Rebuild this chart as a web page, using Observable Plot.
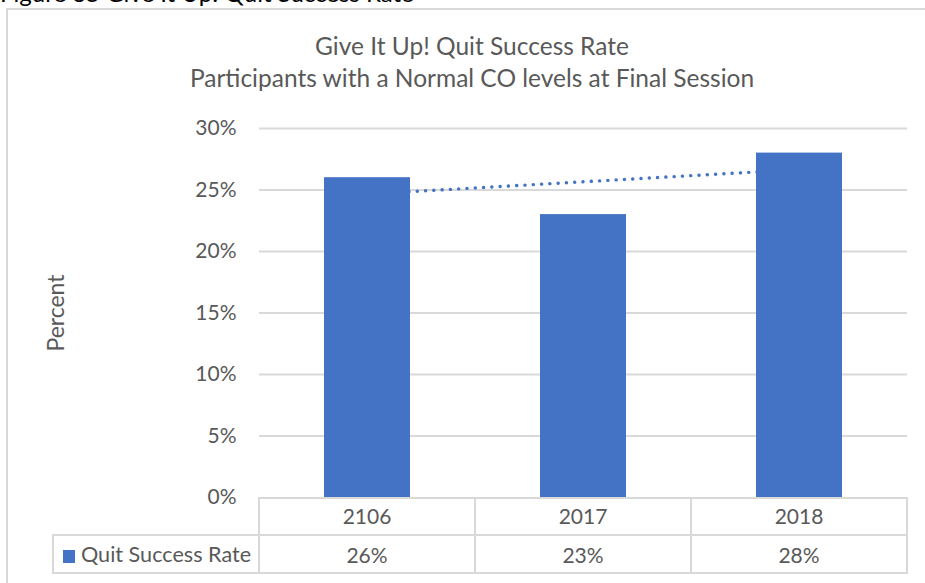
<!DOCTYPE html>
<html>
<head>
<meta charset="utf-8">
<script src="https://cdn.jsdelivr.net/npm/d3@7"></script>
<script src="https://cdn.jsdelivr.net/npm/@observablehq/plot@0.6"></script>
<style>
  html, body { margin: 0; padding: 0; background: #fff; }
  #wrap { position: relative; width: 925px; height: 583px; overflow: hidden; background: #fff; font-family: Lato, "Open Sans", sans-serif; }
  #caption { position: absolute; left: 0; top: -19px; font-size: 24px; line-height: 24px; color: #000; white-space: nowrap; }
  #frame { position: absolute; left: 6px; top: 8px; width: 1000px; height: 1000px; border: 2px solid #d9d9d9; box-sizing: border-box; }
  #title { position: absolute; left: 7px; top: 30px; width: 930px; text-align: center; color: #595959; font-size: 24.5px; line-height: 32px; }
  #chart { position: absolute; left: 0; top: 100px; }
  #tbl { position: absolute; left: 52px; top: 497px; border-collapse: collapse; color: #595959; font-size: 21px; }
  #tbl td { border: 2px solid #d9d9d9; text-align: center; padding: 0; }
  #tbl tr.yr td { padding-bottom: 3px; }
  #tbl td.blank { border-left: none; border-top: none; }
  #tbl td.leg { text-align: left; padding-left: 9px; white-space: nowrap; font-size: 21.6px; }
  .sw { display: inline-block; width: 12px; height: 13px; background: #4472C4; margin-right: 6px; vertical-align: -1px; }
</style>
</head>
<body>
<div id="wrap">
  <div id="caption"></div>
  <div id="frame"></div>
  <div id="title"></div>
  <div id="chart"></div>
  <table id="tbl"></table>
</div>
<script>
const captionText = "Figure 35 Give It Up! Quit Success Rate";
const titleLines = ["Give It Up! Quit Success Rate", "Participants with a Normal CO levels at Final Session"];
const years = ["2106", "2017", "2018"];
const quitRate = [26, 23, 28];            // percent
const trend = [24.67, 25.67, 26.67];      // linear trendline, percent
const yTicks = [0, 5, 10, 15, 20, 25, 30];
const seriesName = "Quit Success Rate";
const yLabel = "Percent";

document.getElementById("caption").textContent = captionText;
document.getElementById("title").innerHTML = titleLines.map(t => `<div>${t}</div>`).join("");

const data = years.map((y, i) => ({year: y, value: quitRate[i], trend: trend[i]}));
const grid = yTicks.filter(t => t > 0);

const chart = Plot.plot({
  width: 925,
  height: 416,
  marginTop: 28,
  marginBottom: 19,
  marginLeft: 259,
  marginRight: 18,
  style: {fontFamily: "Lato, 'Open Sans', sans-serif", fontSize: "21px", color: "#595959", background: "transparent", overflow: "visible"},
  x: {domain: years, paddingInner: 0.6, paddingOuter: 0.3, axis: null},
  y: {domain: [0, 30]},
  marks: [
    Plot.ruleY(grid, {stroke: "#d9d9d9", strokeWidth: 2, strokeOpacity: 1}),
    Plot.axisY({ticks: yTicks, tickSize: 0, tickPadding: 23, tickFormat: d => d + "%", fontSize: 21}),
    Plot.axisY({ticks: [], tickSize: 0, fontSize: 23,
                label: yLabel, labelAnchor: "center", labelArrow: "none", labelOffset: 212}),
    Plot.line(data, {x: "year", y: "trend", stroke: "#4472C4", strokeWidth: 3.4, strokeDasharray: "0.1 8.2", strokeLinecap: "round"}),
    Plot.barY(data, {x: "year", y: "value", fill: "#4472C4"})
  ]
});
document.getElementById("chart").appendChild(chart);

const tbl = document.getElementById("tbl");
const r1 = `<tr class="yr" style="height:37px"><td class="blank" style="width:205px"></td>${years.map(y => `<td style="width:214px">${y}</td>`).join("")}</tr>`;
const r2 = `<tr style="height:38px"><td class="leg"><span class="sw"></span>${seriesName}</td>${quitRate.map(v => `<td>${v}%</td>`).join("")}</tr>`;
tbl.innerHTML = r1 + r2;
</script>
</body>
</html>
